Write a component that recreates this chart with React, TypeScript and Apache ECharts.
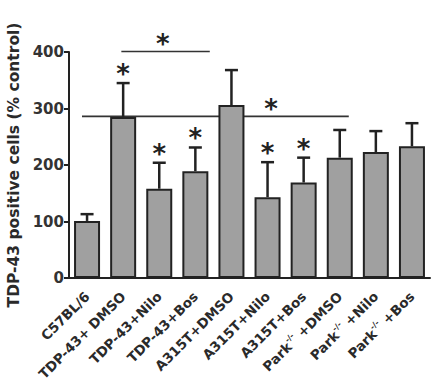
import React, { useEffect, useRef } from "react";
import * as echarts from "echarts";

const categories = [
  "C57BL/6",
  "TDP-43+ DMSO",
  "TDP-43+Nilo",
  "TDP-43+Bos",
  "A315T+DMSO",
  "A315T+Nilo",
  "A315T+Bos",
  "Park-/- +DMSO",
  "Park-/- +Nilo",
  "Park-/- +Bos",
];
const means = [101, 285, 158, 189, 306, 143, 169, 213, 223, 233];
const errors = [12, 60, 46, 42, 62, 62, 44, 49, 37, 41];
const starred = [0, 1, 1, 1, 0, 1, 1, 0, 0, 0];
const yTicks = { min: 0, max: 400, interval: 100 };
const yAxisName = "TDP-43 positive cells (% control)";
// significance brackets: from/to in category units, value in y units
const brackets = [
  { from: 0.95, to: 3.4, value: 401, star: 2.1 },
  { from: -0.14, to: 7.25, value: 286, star: 5.1 },
];

const FONT = "DejaVu Sans";
const INK = "#222";

export default function App() {
  const ref = useRef<HTMLDivElement>(null);
  useEffect(() => {
    document.body.style.margin = "0";
    const chart = echarts.init(ref.current!, null, { renderer: "svg" });
    chart.setOption({
      animation: false,
      backgroundColor: "#fff",
      grid: {
        left: 69,
        right: 6,
        top: 52,
        bottom: 107,
        containLabel: false,
        outerBoundsMode: "none",
      },
      xAxis: {
        type: "category",
        data: categories,
        axisLine: { lineStyle: { color: INK, width: 2 } },
        axisTick: { alignWithLabel: true, length: 5, lineStyle: { color: INK, width: 2 } },
        axisLabel: {
          rotate: 45,
          margin: 16,
          interval: 0,
          color: "#2a2a2a",
          fontFamily: FONT,
          fontWeight: "bold",
          fontSize: 13.5,
          formatter: (v: string) =>
            v.indexOf("-/-") >= 0 ? v.replace("-/-", "{sup|-/-}") : v,
          rich: {
            sup: {
              fontSize: 8,
              fontFamily: FONT,
              fontWeight: "bold",
              color: "#2a2a2a",
              verticalAlign: "top",
              padding: [0, 0, 9, 0],
            },
          },
        },
      },
      yAxis: {
        type: "value",
        min: yTicks.min,
        max: yTicks.max,
        interval: yTicks.interval,
        name: yAxisName,
        nameLocation: "middle",
        nameGap: 47,
        nameTextStyle: {
          fontFamily: FONT,
          fontWeight: "bold",
          fontSize: 15.5,
          color: "#2a2a2a",
        },
        splitLine: { show: false },
        axisLine: { show: true, lineStyle: { color: INK, width: 2 } },
        axisTick: { show: true, length: 5, lineStyle: { color: INK, width: 2 } },
        axisLabel: {
          margin: 5,
          color: "#333",
          fontFamily: FONT,
          fontWeight: "bold",
          fontSize: 15,
        },
      },
      series: [
        {
          type: "bar",
          data: means,
          barWidth: 26,
          itemStyle: { color: "#a0a0a0", borderColor: INK, borderWidth: 2 },
        },
        {
          type: "custom",
          data: means.map((m, i) => [i, m, errors[i], starred[i]]),
          z: 3,
          renderItem: (params: any, api: any) => {
            const i = api.value(0);
            const m = api.value(1);
            const e = api.value(2);
            const base = api.coord([i, m]);
            const top = api.coord([i, m + e]);
            const cap = 6.5;
            const children: any[] = [
              {
                type: "line",
                shape: { x1: base[0], y1: base[1], x2: top[0], y2: top[1] },
                style: { stroke: INK, lineWidth: 2.5 },
              },
              {
                type: "line",
                shape: { x1: top[0] - cap, y1: top[1], x2: top[0] + cap, y2: top[1] },
                style: { stroke: INK, lineWidth: 2.5 },
              },
            ];
            if (api.value(3)) {
              children.push({
                type: "text",
                x: top[0],
                y: top[1] - 9,
                style: {
                  text: "*",
                  fontSize: 26,
                  fontWeight: "bold",
                  fontFamily: FONT,
                  fill: INK,
                  align: "center",
                  verticalAlign: "middle",
                },
              });
            }
            return { type: "group", children };
          },
        },
      ],
    });

    const p0 = chart.convertToPixel({ gridIndex: 0 }, [0, 0]) as number[];
    const p1 = chart.convertToPixel({ gridIndex: 0 }, [1, 0]) as number[];
    const band = p1[0] - p0[0];
    const px = (c: number) => p0[0] + c * band;
    const py = (v: number) =>
      (chart.convertToPixel({ gridIndex: 0 }, [0, v]) as number[])[1];
    const elements: any[] = [];
    brackets.forEach((b) => {
      const y = py(b.value);
      elements.push({
        type: "line",
        shape: { x1: px(b.from), y1: y, x2: px(b.to), y2: y },
        style: { stroke: "#333", lineWidth: 1.6 },
      });
      elements.push({
        type: "text",
        x: px(b.star),
        y: y - 7,
        style: {
          text: "*",
          fontSize: 26,
          fontWeight: "bold",
          fontFamily: FONT,
          fill: INK,
          align: "center",
          verticalAlign: "middle",
        },
      });
    });
    chart.setOption({ graphic: elements });

    return () => chart.dispose();
  }, []);
  return <div ref={ref} style={{ width: 436, height: 385 }} />;
}
